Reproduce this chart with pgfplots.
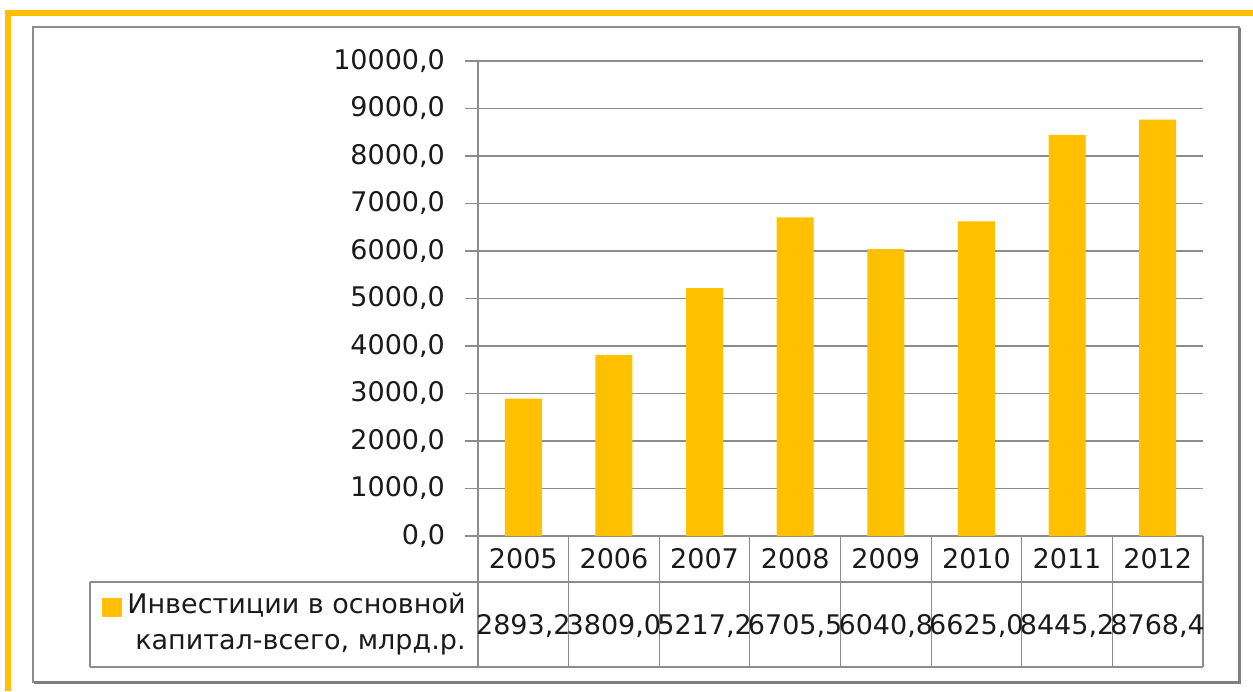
\documentclass[border=0pt]{standalone}
\usepackage{pgfplots}
\pgfplotsset{compat=1.18}
\usepackage{fontspec}
\setmainfont{DejaVu Sans}
\definecolor{gold}{HTML}{FFC000}
\definecolor{gridgray}{HTML}{8C8C8C}
\definecolor{txt}{HTML}{1A1A1A}
\newcommand{\fs}{\fontsize{13.5}{18}\selectfont}
\begin{document}
\begin{tikzpicture}
\begin{axis}[
  at={(239pt,-268pt)}, anchor=south west,
  scale only axis, width=362.5pt, height=237.5pt,
  xmin=-0.5, xmax=7.5, ymin=0, ymax=10000,
  ytick={0,1000,...,10000}, xtick=\empty,
  scaled y ticks=false,
  axis lines*=left,
  axis line style={gridgray, line width=0.6pt},
  ymajorgrids, grid style={gridgray, line width=0.6pt},
  ytick style={gridgray, line width=0.6pt},
  ytick align=outside, major tick length=6.5pt,
  /pgf/number format/assume math mode=true,
  tick label style={font=\fs, text=txt},
  yticklabel style={xshift=-6.5pt, /pgf/number format/fixed, /pgf/number format/fixed zerofill, /pgf/number format/precision=1, /pgf/number format/use comma, /pgf/number format/1000 sep={}},
  clip=false,
]
\addplot[ybar, bar width=18.5pt, fill=gold, draw=none] coordinates {
  (0,2893.2) (1,3809.0) (2,5217.2) (3,6705.5) (4,6040.8) (5,6625.0) (6,8445.2) (7,8768.4)};
\end{axis}
\begin{scope}[x=0.5pt,y=-0.5pt]
\path[use as bounding box] (0,0) rectangle (1253,691);
\fill[gold] (5,10) rectangle (1253,16);
\fill[gold] (5,10) rectangle (11,691);
\draw[gridgray, line width=1.3pt] (33,27) rectangle (1239,682);
\draw[gridgray!90!black, line width=1.6pt] (1239.5,28) -- (1239.5,682.5) -- (34,682.5);
% y tick marks
\foreach \t in {0,...,10} {
  \draw[gridgray, line width=0.6pt] (465,{536-47.5*\t}) -- (478,{536-47.5*\t});
}
% data table grid
\draw[gridgray, line width=0.6pt] (90,582) -- (1203,582);
\draw[gridgray, line width=0.6pt] (90,667) -- (1203,667);
\draw[gridgray, line width=0.6pt] (90,582) -- (90,667);
\draw[gridgray, line width=0.6pt] (478,536) -- (478,667);
\foreach \k in {1,...,8} {
  \draw[gridgray, line width=0.6pt] ({478+90.625*\k},536) -- ({478+90.625*\k},667);
}
\foreach \yr [count=\i from 0] in {2005,2006,2007,2008,2009,2010,2011,2012} {
  \node[font=\fs, text=txt, inner sep=0pt] at ({478+90.625*(\i+0.5)},559) {\yr};
}
\foreach \v [count=\i from 0] in {{2893,2},{3809,0},{5217,2},{6705,5},{6040,8},{6625,0},{8445,2},{8768,4}} {
  \node[font=\fs, text=txt, inner sep=0pt] at ({478+90.625*(\i+0.5)},626) {\v};
}
\fill[gold] (102,598) rectangle (122,617);
\node[font=\fs, text=txt, align=right, anchor=east, inner sep=0pt] at (466,624) {Инвестиции в основной\\капитал-всего, млрд.р.};
\end{scope}
\end{tikzpicture}
\end{document}
